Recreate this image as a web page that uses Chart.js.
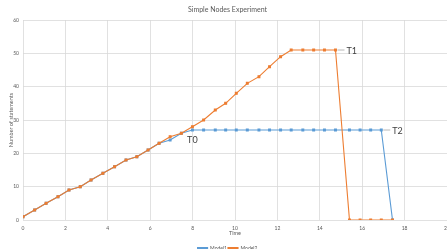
<!DOCTYPE html>
<html>
<head>
<meta charset="utf-8">
<script src="https://cdn.jsdelivr.net/npm/chart.js@4/dist/chart.umd.min.js"></script>
<style>
html,body{margin:0;padding:0;background:#fff;}
#wrap{width:447px;height:249px;}
</style>
</head>
<body>
<div id="wrap"><canvas id="c" width="447" height="249"></canvas></div>
<script>
const times = [0,0.55,1.09,1.65,2.17,2.70,3.21,3.77,4.32,4.86,5.37,5.90,6.42,6.94,7.47,7.99,8.52,9.07,9.56,10.06,10.58,11.13,11.63,12.15,12.65,13.20,13.71,14.22,14.74,15.40,15.90,16.40,16.90,17.43];
const model1 = [1,3,5,7,9,10,12,14,16,18,19,21,23,24,26,27,27,27,27,27,27,27,27,27,27,27,27,27,27,27,27,27,27,0];
const model2 = [1,3,5,7,9,10,12,14,16,18,19,21,23,25,26,28,30,33,35,38,41,43,46,49,51,51,51,51,51,0,0,0,0,0];
const seriesNames = ['Model1','Model2'];
const xTicks = [0,2,4,6,8,10,12,14,16,18,20];
const yTicks = [0,10,20,30,40,50,60];
const annotations = [
  {series:0, index:15, text:'T0', place:'below'},
  {series:1, index:28, text:'T1', place:'right'},
  {series:0, index:32, text:'T2', place:'right'}
];

const pts = arr => arr.map((v,i)=>({x:times[i], y:v}));
const FONT = 'Lato, "Liberation Sans", sans-serif';
const BLUE = '#5B9BD5', ORANGE = '#ED7D31';
const noPad = () => ({left:0, top:0, right:0, bottom:0});

const areaPlugin = {
  id:'fullWidth',
  afterLayout(chart){
    const ca = chart.chartArea;
    ca.right = chart.width;
    ca.width = ca.right - ca.left;
    const s = chart.scales.x;
    s.right = chart.width;
    s.width = s.right - s.left;
    s.configure();
  }
};

const labelPlugin = {
  id:'pointLabels',
  afterDatasetsDraw(chart){
    const ctx = chart.ctx;
    ctx.save();
    ctx.font = '9px ' + FONT;
    ctx.fillStyle = '#404040';
    ctx.strokeStyle = '#a6a6a6';
    ctx.lineWidth = 0.8;
    annotations.forEach(a=>{
      const el = chart.getDatasetMeta(a.series).data[a.index];
      const x = el.x, y = el.y;
      if (a.place === 'below'){
        ctx.textAlign = 'center'; ctx.textBaseline = 'middle';
        ctx.fillText(a.text, x, y + 10);
      } else {
        ctx.beginPath(); ctx.moveTo(x + 2, y); ctx.lineTo(x + 9, y); ctx.stroke();
        ctx.textAlign = 'left'; ctx.textBaseline = 'middle';
        ctx.fillText(a.text, x + 11, y + 1);
      }
    });
    ctx.restore();
  }
};

new Chart(document.getElementById('c'), {
  type:'scatter',
  data:{
    datasets:[
      {label:seriesNames[0], data:pts(model1), showLine:true, borderColor:BLUE, backgroundColor:BLUE,
       borderWidth:1.1, pointRadius:1.3, pointStyle:'rect', order:2},
      {label:seriesNames[1], data:pts(model2), showLine:true, borderColor:ORANGE, backgroundColor:ORANGE,
       borderWidth:1.1, pointRadius:1.3, pointStyle:'rect', order:1}
    ]
  },
  options:{
    responsive:false, animation:false, devicePixelRatio:1,
    layout:{padding:{left:8,right:0,top:0,bottom:-12}},
    plugins:{
      title:{display:true, text:'Simple Nodes Experiment', color:'#595959',
        font:{family:FONT, size:7, weight:'normal'}, padding:{top:6, bottom:5.6}},
      legend:{position:'bottom', labels:{color:'#595959', font:{family:FONT, size:5},
        boxWidth:10, boxHeight:2, padding:1, sort:(a,b)=>a.datasetIndex-b.datasetIndex}},
      tooltip:{enabled:false}
    },
    scales:{
      x:{type:'linear', min:0, max:20,
        afterBuildTicks(s){ s.ticks = xTicks.map(v=>({value:v})); },
        afterFit(s){ s.height = 25; s.paddingLeft = 0; s.paddingRight = 0; s.getPadding = noPad; },
        grid:{color:'#d9d9d9', lineWidth:0.8, drawTicks:false},
        border:{display:false},
        ticks:{color:'#595959', font:{family:FONT, size:5}, padding:5, maxRotation:0, autoSkip:false},
        title:{display:true, text:'Time', color:'#595959', font:{family:FONT, size:5.5}, padding:{top:0,bottom:8}}
      },
      y:{type:'linear', min:0, max:60,
        afterBuildTicks(s){ s.ticks = yTicks.map(v=>({value:v})); },
        afterFit(s){ s.width = 15; s.paddingTop = 0; s.paddingBottom = 0; s.getPadding = noPad; },
        grid:{color:'#d9d9d9', lineWidth:0.8, drawTicks:false},
        border:{display:false},
        ticks:{color:'#595959', font:{family:FONT, size:5}, padding:4},
        title:{display:true, text:'Number of statements', color:'#595959', font:{family:FONT, size:5.5}, padding:{top:0,bottom:0}}
      }
    }
  },
  plugins:[areaPlugin, labelPlugin]
});
</script>
</body>
</html>
